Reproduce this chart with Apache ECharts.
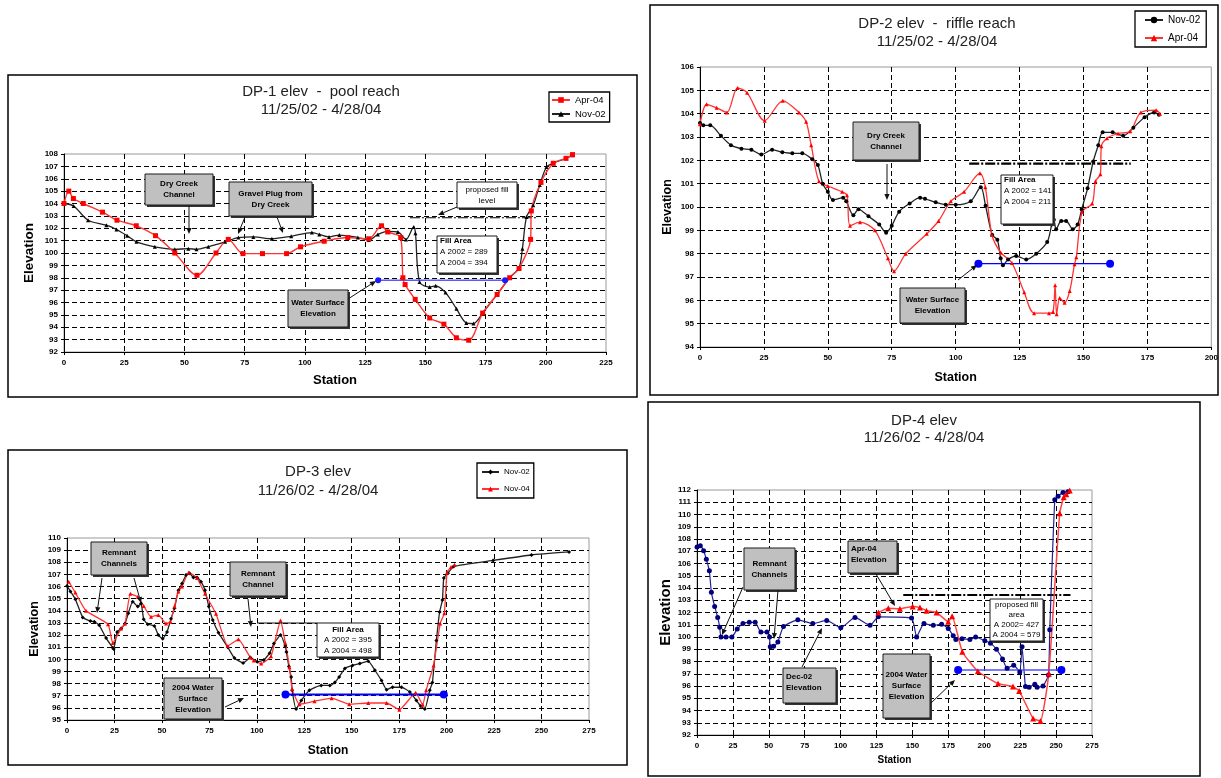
<!DOCTYPE html>
<html>
<head>
<meta charset="utf-8">
<title>DP elevation cross sections</title>
<script src="https://cdn.jsdelivr.net/npm/echarts@6/dist/echarts.min.js"></script>
<style>
html, body { margin: 0; padding: 0; background: #fff; }
#main { width: 1221px; height: 778px; }
</style>
</head>
<body>
<div id="main"></div>
<script>
var FONT = '"Liberation Sans", Arial, sans-serif';

// ---- DP-1 pool reach ----
var dp1Apr04 = [[0,104.0],[2,105.0],[3.9,104.4],[8,104.0],[16,103.3],[22,102.65],[30,102.2],[38,101.4],[46,100.0],[55.2,98.2],[63.1,100.0],[68.2,101.1],[74.3,99.95],[82.4,99.95],[92.4,99.95],[98.2,100.5],[108,100.95],[117.8,101.25],[126.5,101.15],[131.8,102.2],[134.4,101.7],[139.8,101.25],[140.7,98.0],[141.6,97.45],[145.8,96.25],[151.8,94.75],[157.7,94.25],[162.9,93.15],[168,92.95],[173.8,95.15],[179.8,96.65],[185,98.0],[188.9,98.75],[193.7,101.1],[194,103.4],[198,105.7],[203.1,107.25],[208.4,107.65],[211.1,107.95]];
var dp1Nov02 = [[0,104.0],[4,103.8],[10,102.65],[17.6,102.25],[21.8,101.9],[26.2,101.4],[30.1,100.9],[37.7,100.5],[46,100.3],[51.6,100.35],[55,100.3],[59.9,100.5],[66.9,100.9],[72.4,101.25],[78.6,101.3],[86.3,101.15],[94.3,101.35],[102.9,101.65],[106,101.5],[110,101.3],[114.3,101.45],[122,101.25],[126.5,101.05],[130.3,101.5],[134.4,101.75],[138.6,101.7],[142,101.1],[145.2,102.1],[145.9,101.6],[147.6,97.65],[151.8,97.25],[154.3,97.35],[158.4,96.8],[162.9,95.5],[167,94.35],[170,94.3],[173.8,95.15],[179.8,96.65],[185,98.0],[188.9,98.8],[190.3,100.35],[192,102.9],[194.8,103.85],[197.5,105.5],[200.3,106.95],[203.1,107.25],[208.4,107.65],[211.1,107.9]];
var dp1Water = [[130.4,97.8],[183.1,97.8]];
var dp1Fill = [[143.6,102.85],[196.2,102.85]];

// ---- DP-2 riffle reach ----
var dp2Nov02 = [[0,103.6],[1.3,103.5],[4,103.5],[8.2,103.05],[12.1,102.65],[16.2,102.5],[20.1,102.45],[24,102.25],[28.2,102.45],[32.2,102.35],[36.1,102.3],[40,102.3],[43.9,102.05],[46.1,101.8],[48,101.0],[50,100.65],[52,100.3],[56,100.4],[57.2,100.25],[60,99.65],[62,99.9],[65.9,99.6],[70.1,99.25],[72.8,98.9],[75,99.2],[77.9,99.8],[82,100.15],[86.1,100.4],[88,100.35],[92.2,100.2],[96.1,100.1],[100,100.1],[105.9,100.25],[109.8,100.85],[111.7,100.05],[114.3,98.8],[116.3,98.6],[117.6,97.8],[118.5,97.5],[120.5,97.75],[123.7,97.9],[127.6,97.75],[131.5,98.0],[135.8,98.5],[137.6,99.25],[138.4,99.45],[139.3,99.05],[141.3,99.4],[143.2,99.4],[145.8,99.05],[147.7,99.25],[149.3,99.9],[151.6,100.8],[153.8,101.95],[155.8,102.65],[157.5,103.2],[161.4,103.2],[165.5,103.05],[169.5,103.4],[173.9,103.85],[177.6,104.05],[179.5,103.95]];
var dp2Apr04 = [[0,103.55],[2.6,104.4],[6.5,104.25],[10.5,104.05],[14.7,105.1],[18.4,104.9],[25.3,103.7],[32.4,104.55],[38.7,104.05],[41.5,103.65],[43.5,102.65],[46.5,101.1],[50,100.9],[55.6,100.65],[57.5,100.5],[58.7,99.2],[62.6,99.35],[68.4,99.0],[73.5,97.8],[75.9,97.25],[80.5,98.0],[88.7,98.85],[93.3,99.4],[98.1,100.25],[103.3,100.65],[109.5,101.45],[111.6,100.85],[114.2,98.8],[117.6,98.05],[122,97.6],[126.8,96.35],[130.7,95.45],[136.5,95.45],[138.1,95.5],[138.9,96.65],[139.5,95.4],[140.7,96.1],[142.6,95.9],[144.6,96.4],[146.5,97.55],[147.2,97.85],[149.5,99.8],[153.4,100.15],[154.7,101.1],[156.6,101.4],[157,102.6],[159.2,102.95],[163.5,103.15],[168.3,103.25],[172.4,104.05],[178.4,104.15],[179.9,104.0]];
var dp2Water = [[108.9,97.57],[160.4,97.57]];
var dp2Fill = [[105.3,101.86],[168.5,101.86]];

// ---- DP-3 ----
var dp3Nov02 = [[0,106.05],[1.8,105.6],[4.4,104.95],[8.3,103.45],[12.3,103.15],[14.4,103.1],[17,102.8],[20.6,101.75],[24.1,100.95],[24.6,100.85],[26.4,102.25],[28.5,102.55],[30.6,102.95],[32.3,103.8],[34.6,104.75],[37.3,104.35],[39,104.6],[40.4,103.3],[42.5,102.9],[46,102.75],[48.1,102.0],[50.4,101.7],[52.7,102.25],[54.8,103.35],[56.6,104.2],[58.7,105.7],[60.6,106.25],[62.7,106.95],[64.5,107.1],[66.6,106.75],[68.5,106.75],[70.6,106.4],[72.7,105.7],[74.7,104.35],[76.8,103.25],[79.8,102.2],[84.7,101.0],[88.2,100.1],[92.8,99.7],[96.6,100.15],[100.2,99.8],[103.7,99.95],[106.7,100.5],[109,101.3],[112.5,102.0],[115,101.1],[115.6,100.6],[116.9,99.4],[118.1,98.55],[118.6,97.45],[120.7,95.9],[123.4,96.6],[127.7,97.45],[133.9,97.85],[138.5,97.85],[141.1,98.1],[143.4,98.55],[146.4,99.25],[150.4,99.5],[154.3,99.65],[158.7,99.85],[162.2,99.1],[165.7,98.25],[168.4,97.5],[171.5,97.7],[176.2,97.7],[180.6,97.3],[184.1,96.6],[186.3,96.15],[188.5,95.9],[191.1,97.45],[192.5,98.1],[194.6,101.55],[196.3,103.9],[197.8,104.9],[198.5,106.7],[200.7,107.1],[203.7,107.65],[224.5,108.15],[244.7,108.6],[264.5,108.85]];
var dp3Nov04 = [[0.9,106.4],[4.4,105.5],[10,104.0],[21.6,102.9],[24.1,101.35],[28.5,102.55],[30.6,102.95],[33.4,105.4],[37.3,105.15],[40.4,104.4],[44.3,103.5],[48.1,103.65],[52.2,102.95],[54.5,103.1],[56.6,104.35],[58.7,105.6],[60.6,106.0],[64.1,107.15],[68.5,106.7],[72.7,105.4],[78.5,103.75],[84.7,101.1],[90.3,101.65],[96.6,100.15],[98.4,99.9],[102.3,99.65],[107.5,100.25],[112.5,103.2],[115,101.35],[117.2,99.35],[118.6,97.55],[122.5,96.3],[130.4,96.55],[139.4,96.8],[148.7,96.3],[158.7,96.4],[168.4,96.4],[175.1,95.85],[183.7,97.25],[187.4,96.25],[189.2,97.45],[193.1,99.5],[196.6,102.95],[198.8,103.8],[200.2,107.15],[202.3,107.6],[204.2,107.8]];
var dp3Water = [[115.1,97.1],[198.5,97.1]];

// ---- DP-4 ----
var dp4Dec02 = [[0,107.35],[2.3,107.45],[4.6,107.05],[6.5,106.35],[8.6,105.4],[10,103.65],[12.3,102.5],[14.4,101.6],[15.8,100.8],[16.7,100.0],[20.2,100.0],[24.3,100.0],[28,100.65],[32,101.1],[36.4,101.2],[40.5,101.2],[44.5,100.4],[48.7,100.4],[50.5,100.0],[51,99.2],[53.3,99.25],[56.3,99.6],[60.2,100.85],[70.2,101.4],[80.6,101.1],[90.3,101.35],[100.1,100.75],[110,101.6],[120.5,100.95],[126.2,101.65],[149.4,101.55],[152.9,100.0],[158,101.1],[164.5,100.95],[170.3,101.05],[174.9,100.7],[178.4,100.1],[180.2,99.8],[184.5,99.85],[190,99.8],[194,100.0],[200.4,99.7],[204.3,99.5],[208.5,99.0],[212.7,98.2],[215.9,97.45],[220.5,97.7],[224.7,97.15],[226.3,99.2],[228.7,95.95],[231.2,95.9],[235.2,96.15],[236.8,95.9],[240.9,96.0],[244.7,96.9],[245.6,100.6],[249.1,111.2],[251.4,111.5],[254.8,111.8],[258.3,111.85]];
var dp4Apr04 = [[126.3,102.0],[133.2,102.35],[141.3,102.3],[150.1,102.5],[155.2,102.4],[159.8,102.15],[166.8,102.0],[174.9,101.25],[177.6,101.7],[184.7,98.8],[195.5,97.2],[209.6,96.2],[220,95.95],[224.3,95.6],[234,93.35],[239.1,93.15],[244.9,97.0],[252.5,110.1],[255.3,111.4],[257.1,111.65],[259.5,111.95]];
var dp4Water = [[181.8,97.3],[253.7,97.3]];
var dp4Fill = [[143.6,103.43],[260,103.43]];

var xMax = [225, 200, 275, 275];
var yMin = [92, 94, 95, 92];
var yMax = [108, 106, 110, 112];

var grids = [
    {left: 64, top: 154, width: 542, height: 198},
    {left: 700, top: 67, width: 513, height: 280},
    {left: 67, top: 538, width: 522, height: 182},
    {left: 697, top: 490, width: 395, height: 245}
];
var xNameGap = [22, 24, 25, 20];
var xNameSize = [13, 12.5, 12, 10];
var yNameGap = [28, 26, 26, 22];
var yNameSize = [13.5, 12.5, 12.5, 15];

function xAx(i) {
    return {
        type: 'value', gridIndex: i, min: 0, max: xMax[i], interval: 25,
        name: 'Station', nameLocation: 'middle', nameGap: xNameGap[i],
        nameTextStyle: {fontFamily: FONT, fontWeight: 'bold', fontSize: xNameSize[i], color: '#000'},
        axisLine: {onZero: false, lineStyle: {color: '#000', width: 1}},
        axisTick: {show: true, length: 3, lineStyle: {color: '#000'}},
        axisLabel: {fontFamily: FONT, fontWeight: 'bold', fontSize: 8, color: '#000', margin: 7},
        splitLine: {show: true, showMinLine: false, showMaxLine: false, lineStyle: {color: '#000', type: [5, 3], width: 1}}
    };
}
function yAx(i) {
    return {
        type: 'value', gridIndex: i, min: yMin[i], max: yMax[i], interval: 1,
        name: 'Elevation', nameLocation: 'middle', nameGap: yNameGap[i],
        nameTextStyle: {fontFamily: FONT, fontWeight: 'bold', fontSize: yNameSize[i], color: '#000'},
        axisLine: {onZero: false, lineStyle: {color: '#000', width: 1}},
        axisTick: {show: true, length: 3, lineStyle: {color: '#000'}},
        axisLabel: {fontFamily: FONT, fontWeight: 'bold', fontSize: 8, color: '#000', margin: 6},
        splitLine: {show: true, showMinLine: false, showMaxLine: false, lineStyle: {color: '#000', type: [5, 3], width: 1}}
    };
}

function ln(name, data, gi, color, lineColor, sym, size, width, smooth) {
    return {
        name: name, type: 'line', xAxisIndex: gi, yAxisIndex: gi, data: data,
        symbol: sym, symbolSize: size, smooth: smooth, silent: true,
        lineStyle: {color: lineColor, width: width},
        itemStyle: {color: color},
        emphasis: {disabled: true}
    };
}
function dashLine(data, gi, width) {
    return {
        name: 'proposed fill', type: 'line', xAxisIndex: gi, yAxisIndex: gi, data: data,
        symbol: 'none', silent: true, z: 1,
        lineStyle: {color: '#000', width: width, type: [10, 2, 2, 2]}
    };
}

// series names carry trailing spaces so each chart's legend picks its own series;
// the legend formatter trims them back off
var series = [
    ln('Nov-02', dp1Nov02, 0, '#000', '#222', 'triangle', 4, 1.3, 0.3),
    ln('Apr-04', dp1Apr04, 0, '#ff0000', '#ff3333', 'rect', 5, 1.4, 0.3),
    ln('Water Surface', dp1Water, 0, '#1a1aff', '#5a5aff', 'circle', 6, 1.5, false),
    dashLine(dp1Fill, 0, 1.2),

    ln('Nov-02 ', dp2Nov02, 1, '#000', '#222', 'circle', 4, 1.3, 0.3),
    ln('Apr-04 ', dp2Apr04, 1, '#ff0000', '#ff3333', 'triangle', 4, 1.3, 0.3),
    ln('Water Surface', dp2Water, 1, '#0000ff', '#0000ff', 'circle', 8, 1.2, false),
    dashLine(dp2Fill, 1, 2.2),

    ln('Nov-02  ', dp3Nov02, 2, '#000', '#222', 'diamond', 4, 1.3, 0.15),
    ln('Nov-04', dp3Nov04, 2, '#ff0000', '#ff3333', 'triangle', 4, 1.3, 0.15),
    ln('Water Surface', dp3Water, 2, '#0000ff', '#0000ff', 'circle', 8, 2, false),

    ln('Dec-02', dp4Dec02, 3, '#000080', '#22228f', 'circle', 5, 1.2, 0.15),
    ln('Apr-04  ', dp4Apr04, 3, '#ff0000', '#ff4444', 'triangle', 6, 1.5, 0.15),
    ln('Water Surface', dp4Water, 3, '#0000ff', '#5050ff', 'circle', 8, 1.5, false),
    dashLine(dp4Fill, 3, 2.2)
];

function ttl(text, left, top, lh) {
    return {
        text: text, left: left, top: top, textAlign: 'center', padding: 0,
        textStyle: {fontFamily: FONT, fontWeight: 'normal', fontSize: 15, lineHeight: lh, color: '#222'}
    };
}

function lg(names, left, top, pad, iw, ih, gap, fs) {
    return {
        data: names, left: left, top: top, orient: 'vertical', padding: pad,
        itemWidth: iw, itemHeight: ih, itemGap: gap, selectedMode: false,
        formatter: function (n) { return n.trim(); },
        borderColor: '#000', borderWidth: 1.3, borderRadius: 0, backgroundColor: '#fff',
        textStyle: {fontFamily: FONT, fontSize: fs, color: '#000'}
    };
}

// annotation helpers (pixel layout)
function gbox(x1, y1, x2, y2, txt, o) {
    o = o || {};
    var w = x2 - x1, h = y2 - y1;
    var align = o.align || 'center';
    var tx = align === 'center' ? x1 + w / 2 : x1 + 3;
    var ty = o.ty != null ? o.ty : y1 + h / 2;
    var va = o.ty != null ? 'top' : 'middle';
    return [
        {type: 'rect', z: 100, silent: true, shape: {x: x1 + 2, y: y1 + 2, width: w, height: h}, style: {fill: '#333'}},
        {type: 'rect', z: 101, silent: true, shape: {x: x1, y: y1, width: w, height: h},
         style: {fill: o.fill || '#c0c0c0', stroke: '#1a1a1a', lineWidth: 1}},
        {type: 'text', z: 102, silent: true, x: tx, y: ty,
         style: {text: txt, fill: '#000', fontFamily: FONT, fontSize: o.fs || 8,
                 fontWeight: o.weight || 'bold', lineHeight: o.lh || 10,
                 align: align, verticalAlign: va, textAlign: align, textVerticalAlign: va,
                 rich: {b: {fontWeight: 'bold', fontFamily: FONT, fontSize: o.fs || 8, lineHeight: o.lh || 10}}}}
    ];
}
function garrow(x1, y1, x2, y2) {
    var a = Math.atan2(y2 - y1, x2 - x1), c = Math.cos(a), s = Math.sin(a);
    var L = 6, W = 2.6;
    var bx = x2 - L * c, by = y2 - L * s;
    return [
        {type: 'line', z: 103, silent: true, shape: {x1: x1, y1: y1, x2: bx, y2: by}, style: {stroke: '#111', lineWidth: 1}},
        {type: 'polygon', z: 103, silent: true, shape: {points: [[x2, y2], [bx - W * s, by + W * c], [bx + W * s, by - W * c]]}, style: {fill: '#111'}}
    ];
}
function frame(x1, y1, x2, y2) {
    return {type: 'rect', z: 0, silent: true, shape: {x: x1, y: y1, width: x2 - x1, height: y2 - y1},
            style: {fill: 'none', stroke: '#000', lineWidth: 1.5}};
}

var graphics = [
    frame(8, 75, 637, 397), frame(650, 5, 1218, 395),
    frame(8, 450, 627, 765), frame(648, 402, 1200, 776)
];
graphics = graphics.concat(
    // DP-1
    gbox(145, 174, 213, 205, 'Dry Creek\nChannel', {lh: 11}),
    garrow(189, 206, 189, 234),
    gbox(229, 182, 312, 216, 'Gravel Plug from\nDry Creek', {lh: 11}),
    garrow(245, 217, 238, 234), garrow(277, 217, 283, 233),
    gbox(288, 290, 348, 327, 'Water Surface\nElevation', {lh: 11}),
    garrow(348, 299, 376, 281),
    gbox(457, 182, 517, 208, 'proposed fill\nlevel', {fill: '#fff', weight: 'normal', lh: 11}),
    garrow(457, 207, 438, 215),
    gbox(437, 236, 497, 273, '{b|Fill Area}\nA 2002 = 289\nA 2004 = 394', {fill: '#fff', weight: 'normal', align: 'left', ty: 235, lh: 11}),
    // DP-2
    gbox(853, 122, 919, 160, 'Dry Creek\nChannel', {lh: 11}),
    garrow(887, 164, 887, 200),
    gbox(900, 288, 965, 323, 'Water Surface\nElevation', {lh: 11}),
    garrow(958, 280, 977, 265),
    gbox(1001, 175, 1053, 224, '{b|Fill Area}\nA 2002 = 141\nA 2004 = 211', {fill: '#fff', weight: 'normal', align: 'left', ty: 174, lh: 11}),
    // DP-3
    gbox(91, 542, 147, 575, 'Remnant\nChannels', {lh: 11}),
    garrow(102, 578, 97, 613), garrow(134, 578, 141, 603),
    gbox(230, 562, 286, 596, 'Remnant\nChannel', {lh: 11}),
    garrow(248, 599, 251, 627),
    gbox(164, 678, 222, 719, '2004 Water\nSurface\nElevation', {lh: 11}),
    garrow(225, 707, 244, 698),
    [{type: 'line', z: 103, silent: true, shape: {x1: 257, y1: 623, x2: 317, y2: 623}, style: {stroke: '#111', lineWidth: 1}}],
    gbox(317, 623, 379, 657, '{b|Fill Area}\nA 2002 = 395\nA 2004 = 498', {fill: '#fff', weight: 'normal', lh: 10.5}),
    // DP-4
    gbox(744, 548, 795, 590, 'Remnant\nChannels', {lh: 11}),
    garrow(743, 587, 722, 635), garrow(778, 590, 774, 639),
    gbox(783, 668, 836, 703, 'Dec-02\nElevation', {align: 'left', ty: 671, lh: 11}),
    garrow(802, 667, 822, 628),
    gbox(848, 541, 897, 573, 'Apr-04\nElevation', {align: 'left', ty: 543, lh: 11}),
    garrow(876, 574, 895, 606),
    gbox(883, 654, 930, 718, '2004 Water\nSurface\nElevation', {lh: 11}),
    garrow(931, 703, 955, 680),
    gbox(990, 599, 1043, 641, 'proposed fill\narea\nA 2002= 427\nA 2004 = 579', {fill: '#fff', weight: 'normal', lh: 10})
);
var flat = [];
graphics.forEach(function (g) { if (Array.isArray(g)) { flat = flat.concat(g); } else { flat.push(g); } });

var chart = echarts.init(document.getElementById('main'), null, {renderer: 'canvas'});
var option = {
    animation: false,
    backgroundColor: '#fff',
    title: [
        ttl('DP-1 elev  -  pool reach\n11/25/02 - 4/28/04', 321, 83, 18),
        ttl('DP-2 elev  -  riffle reach\n11/25/02 - 4/28/04', 937, 15, 18),
        ttl('DP-3 elev\n11/26/02 - 4/28/04', 318, 462, 19),
        ttl('DP-4 elev\n11/26/02 - 4/28/04', 924, 412, 17.5)
    ],
    legend: [
        lg(['Apr-04', 'Nov-02'], 549, 92, [3, 4, 3, 2], 18, 7, 4, 9.5),
        lg(['Nov-02 ', 'Apr-04 '], 1135, 11, [4, 6, 4, 9], 18, 8, 8, 10),
        lg(['Nov-02  ', 'Nov-04'], 477, 463, [5, 4, 5, 4], 17, 6, 9, 8)
    ],
    grid: grids.map(function (g) {
        return {left: g.left, top: g.top, width: g.width, height: g.height, show: true,
                borderColor: '#999', borderWidth: 1, backgroundColor: 'transparent', containLabel: false};
    }),
    xAxis: [xAx(0), xAx(1), xAx(2), xAx(3)],
    yAxis: [yAx(0), yAx(1), yAx(2), yAx(3)],
    series: series,
    graphic: {elements: flat}
};
chart.setOption(option);
</script>
</body>
</html>
